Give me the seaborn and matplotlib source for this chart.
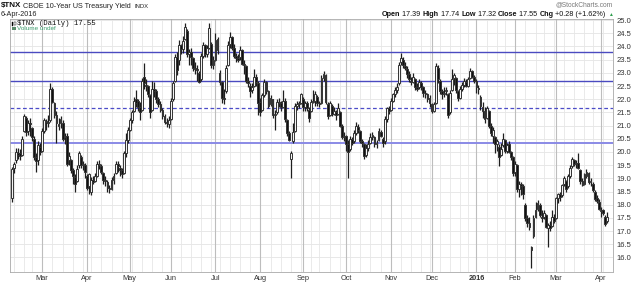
import numpy as np
import pandas as pd
import matplotlib
matplotlib.use("Agg")
import matplotlib.pyplot as plt
from matplotlib.patches import Rectangle
import seaborn as sns

# ---------------- data ----------------
start_date = "2015-02-06"
end_date = "2016-04-06"
market_holidays = ["2015-02-16", "2015-04-03", "2015-05-25", "2015-07-03",
                   "2015-09-07", "2015-11-26", "2015-12-25", "2016-01-01",
                   "2016-01-18", "2016-02-15", "2016-03-25"]

opens = [
    18.25, 19.40, 19.70, 19.95, 19.95, 19.90, 20.80, 21.30, 20.80, 21.10, 20.90, 20.50, 19.80, 19.70, 20.20,
    20.05, 20.80, 21.15, 21.15, 21.20, 22.40, 21.85, 21.40, 21.00, 21.10, 21.10, 20.55, 20.60, 19.70, 19.70, 19.30, 19.05, 18.90, 19.50, 19.80, 19.50, 19.50,
    19.10, 18.70, 18.50, 18.95, 18.90, 19.10, 19.55, 19.45, 19.20, 18.95, 18.85, 18.65, 18.60, 18.95, 19.20, 19.55, 19.40, 19.30, 19.20, 19.95, 20.45,
    20.85, 21.20, 21.55, 22.00, 21.95, 21.70, 21.60, 22.85, 22.55, 22.50, 22.15, 21.60, 22.40, 22.30, 22.00, 21.80, 21.60, 21.35, 21.15, 21.05,
    21.25, 22.00, 22.70, 23.60, 23.50, 24.05, 23.90, 24.30, 24.60, 23.70, 23.80, 23.55, 23.20, 23.15, 23.00, 22.75, 23.65, 24.05, 23.70, 23.95, 24.10, 23.30,
    23.50, 24.30, 23.00, 22.65, 22.05, 22.30, 23.30, 24.10, 24.35, 23.95, 23.65, 23.55, 23.60, 23.85, 23.35, 23.25, 22.70, 22.50, 22.35, 22.50, 22.85, 22.60,
    21.90, 21.60, 22.15, 22.65, 22.30, 21.80, 22.00, 21.40, 21.50, 21.90, 21.85, 21.70, 21.95, 21.20, 20.70, 19.72, 20.40, 20.80, 21.75, 21.80, 21.85,
    22.00, 21.70, 21.85, 21.60, 21.55, 21.90, 21.95, 22.10, 21.85, 21.85, 22.80, 22.90, 21.80, 21.40, 21.75, 21.45, 21.50, 21.45, 21.50, 21.00, 20.55,
    20.60, 20.30, 20.10, 20.50, 20.40, 20.70, 20.95, 20.80, 20.40, 20.30, 19.90, 20.15, 20.35, 20.55, 20.55, 20.30, 20.45, 20.75, 20.50, 20.40, 21.25, 21.65,
    21.60, 21.95, 22.20, 22.35, 22.60, 23.40, 23.50, 23.25, 23.15, 22.95, 22.70, 22.65, 22.75, 22.45, 22.45, 22.60, 22.45, 22.25, 22.20, 22.05,
    21.80, 21.55, 21.85, 23.20, 22.70, 22.30, 22.20, 22.30, 22.20, 21.50, 22.35, 22.80, 22.80, 22.30, 22.05, 22.40, 22.55, 22.65, 22.50, 22.80, 23.05, 22.85,
    22.70, 22.40, 22.10, 21.70, 21.55, 21.30, 21.55, 21.00, 20.60, 20.55, 20.30, 20.20, 19.90, 20.25, 20.45, 20.05, 20.30, 20.00, 19.80,
    19.25, 19.50, 18.60, 18.80, 18.70, 18.00, 17.50, 17.30, 16.40, 16.80, 17.55, 17.85, 18.00, 17.55, 17.55, 17.60, 17.10, 17.25, 17.20, 17.55,
    17.50, 18.25, 18.40, 18.35, 18.80, 18.90, 18.70, 19.10, 19.45, 19.70, 19.55, 19.60, 19.30, 18.90, 18.80, 19.10, 19.20, 18.85, 18.80, 18.50, 18.25, 18.10,
    17.75, 17.80, 17.55, 17.39,
]
highs = [
    19.44, 19.62, 20.15, 20.15, 20.10, 20.60, 21.45, 21.35, 21.20, 21.30, 20.95, 20.60, 19.95, 20.40, 20.35,
    20.90, 21.30, 21.25, 21.40, 22.60, 22.45, 21.90, 21.55, 21.30, 21.35, 21.20, 20.70, 20.70, 20.00, 19.75, 19.40, 19.15, 19.50, 20.05, 19.90, 19.65, 19.60,
    19.15, 19.20, 19.05, 19.10, 19.20, 19.65, 19.70, 19.55, 19.25, 19.10, 18.95, 18.75, 19.05, 19.20, 19.65, 19.65, 19.50, 19.40, 20.05, 20.70, 20.95,
    21.30, 21.60, 22.10, 22.35, 22.00, 21.90, 22.80, 23.36, 22.75, 22.55, 22.20, 22.70, 22.65, 22.40, 22.10, 21.95, 21.65, 21.45, 21.30, 21.35,
    22.05, 22.70, 23.70, 23.80, 24.25, 24.10, 24.40, 24.87, 24.65, 23.90, 23.95, 23.60, 23.40, 23.30, 23.05, 23.75, 24.15, 24.10, 24.05, 24.87, 24.15, 23.65,
    24.50, 24.35, 23.10, 22.70, 22.40, 23.30, 24.20, 24.56, 24.40, 24.10, 23.75, 23.70, 24.00, 23.90, 23.50, 23.30, 22.85, 22.60, 22.60, 23.15, 22.95, 22.70,
    22.05, 22.25, 22.75, 22.70, 22.35, 22.15, 22.00, 21.60, 22.00, 22.05, 21.95, 22.35, 22.05, 21.25, 20.80, 20.05, 21.10, 21.85, 21.95, 21.95, 22.25,
    22.10, 21.95, 21.95, 21.70, 22.00, 22.35, 22.30, 22.15, 21.95, 22.90, 23.05, 22.95, 21.90, 21.95, 21.80, 21.70, 21.60, 21.85, 21.55, 21.05, 20.75,
    20.65, 20.45, 20.60, 20.55, 20.85, 21.15, 21.05, 20.85, 20.50, 20.35, 20.30, 20.45, 20.70, 20.75, 20.60, 20.45, 20.90, 20.85, 20.55, 21.35, 21.70, 21.75,
    22.05, 22.25, 22.45, 22.60, 23.40, 23.74, 23.60, 23.40, 23.25, 23.05, 22.85, 23.00, 22.80, 22.60, 22.75, 22.70, 22.50, 22.35, 22.25, 22.15,
    21.85, 21.90, 23.36, 23.30, 22.75, 22.40, 22.45, 22.45, 22.25, 22.35, 23.15, 23.00, 22.85, 22.35, 22.50, 22.65, 22.80, 22.75, 22.85, 23.17, 23.10, 22.90,
    22.75, 22.55, 22.15, 21.90, 21.70, 21.75, 21.60, 21.10, 20.95, 20.60, 20.50, 20.30, 20.35, 20.70, 20.50, 20.35, 20.40, 20.05, 19.85,
    19.65, 19.55, 18.90, 18.85, 18.80, 18.05, 17.60, 17.55, 16.45, 17.60, 18.10, 18.18, 18.05, 17.80, 17.80, 17.65, 17.30, 17.40, 17.80, 17.65,
    18.30, 18.45, 18.50, 18.80, 19.10, 18.95, 19.15, 19.50, 19.80, 19.75, 19.70, 19.95, 19.35, 19.00, 19.20, 19.35, 19.25, 19.00, 18.85, 18.55, 18.35, 18.20,
    17.90, 17.85, 17.60, 17.74,
]
lows = [
    18.10, 19.20, 19.60, 19.75, 19.70, 19.85, 20.75, 20.60, 20.65, 20.60, 20.40, 19.70, 19.25, 19.50, 19.90,
    20.00, 20.70, 20.85, 20.95, 21.15, 21.85, 21.30, 20.35, 20.85, 20.90, 20.40, 20.30, 19.45, 19.50, 19.20, 18.80, 18.50, 18.85, 19.40, 19.40, 19.30, 19.00,
    18.55, 18.40, 18.37, 18.80, 18.85, 19.05, 19.35, 19.15, 18.80, 18.70, 18.50, 18.43, 18.55, 18.80, 19.15, 19.25, 19.10, 19.00, 19.15, 19.80, 20.35,
    20.80, 21.10, 21.50, 21.70, 21.55, 21.20, 21.55, 22.40, 22.30, 22.10, 21.30, 21.55, 22.10, 21.85, 21.70, 21.50, 21.25, 21.05, 20.95, 20.90,
    21.20, 21.95, 22.65, 22.90, 23.30, 23.70, 23.75, 24.25, 23.60, 23.30, 23.30, 23.05, 22.95, 22.70, 22.60, 22.70, 23.55, 23.60, 23.60, 23.90, 23.20, 23.15,
    23.45, 23.70, 22.55, 21.85, 21.80, 22.25, 23.25, 23.95, 23.85, 23.55, 23.40, 23.40, 23.50, 23.30, 22.95, 22.60, 22.45, 22.10, 22.25, 22.45, 22.50, 21.40,
    21.35, 21.55, 22.10, 22.20, 21.65, 21.75, 21.30, 20.83, 21.45, 21.70, 21.55, 21.65, 21.15, 20.60, 20.40, 19.00, 20.35, 20.75, 21.60, 21.65, 21.80,
    21.55, 21.55, 21.55, 21.15, 21.50, 21.85, 21.75, 21.75, 21.70, 21.80, 22.70, 21.80, 21.25, 21.35, 21.35, 21.40, 21.20, 21.40, 20.95, 20.50, 20.40,
    20.05, 19.00, 20.05, 20.25, 20.35, 20.65, 20.70, 20.35, 20.20, 19.75, 19.80, 20.05, 20.30, 20.45, 20.20, 20.15, 20.40, 20.55, 20.20, 20.30, 21.15, 21.45,
    21.55, 21.90, 22.10, 22.25, 22.55, 23.30, 23.20, 23.10, 22.80, 22.65, 22.55, 22.60, 22.35, 22.30, 22.40, 22.35, 22.10, 22.05, 21.90, 21.70,
    21.46, 21.50, 21.80, 22.60, 22.20, 22.00, 22.10, 22.15, 21.30, 21.45, 22.30, 22.55, 22.25, 21.95, 22.00, 22.30, 22.45, 22.45, 22.45, 22.75, 22.80, 22.60,
    22.25, 22.20, 21.60, 21.30, 21.10, 21.25, 20.90, 20.60, 20.35, 19.95, 20.05, 19.45, 19.85, 20.20, 19.95, 19.95, 19.95, 19.70, 19.10,
    19.10, 18.50, 18.30, 18.35, 18.20, 17.40, 17.15, 17.05, 15.60, 16.75, 17.50, 17.75, 17.55, 17.35, 17.45, 17.10, 16.40, 17.00, 17.15, 17.30,
    17.45, 18.05, 18.15, 18.30, 18.70, 18.50, 18.65, 19.00, 19.40, 19.45, 19.40, 19.35, 18.80, 18.70, 18.75, 19.00, 18.80, 18.70, 18.50, 18.15, 18.05, 17.80,
    17.55, 17.60, 17.20, 17.32,
]
closes = [
    19.35, 19.55, 20.00, 19.90, 19.85, 20.50, 21.35, 20.75, 21.10, 21.05, 20.55, 19.80, 19.65, 20.25, 20.00,
    20.80, 21.20, 21.15, 21.10, 22.40, 21.90, 21.40, 21.10, 21.05, 21.25, 20.50, 20.60, 19.55, 19.85, 19.30, 19.10, 18.80, 19.35, 19.95, 19.50, 19.55, 19.25,
    18.65, 19.15, 18.95, 18.85, 19.10, 19.55, 19.50, 19.25, 18.95, 18.90, 18.65, 18.60, 18.95, 19.10, 19.55, 19.45, 19.30, 19.15, 19.95, 20.45, 20.85,
    21.20, 21.50, 21.95, 21.85, 21.70, 21.50, 22.70, 22.60, 22.50, 22.20, 21.50, 22.40, 22.30, 22.00, 21.80, 21.60, 21.35, 21.15, 21.10, 21.20,
    21.95, 22.60, 23.60, 23.10, 24.05, 23.90, 24.20, 24.75, 23.70, 23.80, 23.60, 23.20, 23.15, 23.10, 22.65, 23.65, 24.05, 23.70, 23.95, 24.70, 23.30, 23.50,
    24.25, 23.85, 22.65, 22.05, 22.00, 23.20, 24.05, 24.35, 23.95, 23.65, 23.55, 23.50, 23.85, 23.35, 23.30, 22.70, 22.60, 22.30, 22.45, 22.85, 22.65, 21.85,
    21.50, 22.15, 22.65, 22.30, 21.75, 22.05, 21.40, 21.45, 21.90, 21.85, 21.70, 21.95, 21.25, 20.70, 20.45, 19.95, 20.75, 21.75, 21.80, 21.85, 22.20,
    21.70, 21.85, 21.65, 21.30, 21.90, 21.95, 22.20, 21.85, 21.80, 22.80, 22.95, 21.90, 21.35, 21.85, 21.45, 21.55, 21.40, 21.65, 21.00, 20.55, 20.60,
    20.30, 20.00, 20.50, 20.35, 20.70, 21.00, 20.85, 20.40, 20.35, 19.85, 20.15, 20.30, 20.55, 20.65, 20.30, 20.35, 20.80, 20.60, 20.35, 21.25, 21.65, 21.55,
    21.95, 22.20, 22.35, 22.45, 23.30, 23.55, 23.30, 23.20, 22.95, 22.75, 22.65, 22.85, 22.45, 22.40, 22.65, 22.45, 22.25, 22.20, 22.00, 21.85,
    21.55, 21.80, 23.25, 22.75, 22.30, 22.20, 22.25, 22.35, 21.40, 22.25, 22.75, 22.90, 22.35, 22.05, 22.40, 22.55, 22.70, 22.50, 22.75, 23.05, 22.85, 22.70,
    22.45, 22.40, 21.75, 21.55, 21.25, 21.65, 21.00, 20.70, 20.85, 20.30, 20.40, 19.80, 20.10, 20.50, 20.05, 20.25, 20.00, 19.80, 19.20,
    19.55, 18.60, 18.80, 18.70, 18.40, 17.50, 17.30, 17.15, 16.30, 17.50, 17.80, 18.05, 17.60, 17.50, 17.70, 17.15, 17.25, 17.10, 17.55, 17.40,
    18.25, 18.40, 18.30, 18.75, 19.00, 18.60, 19.10, 19.40, 19.75, 19.55, 19.60, 19.40, 18.90, 18.75, 19.15, 19.25, 18.85, 18.90, 18.55, 18.20, 18.15, 17.85,
    17.80, 17.70, 17.27, 17.55,
]

level_solid = [23.8, 22.7]
level_dashed = [21.65]
level_light = [20.35]
y_ticks = [16.0, 16.5, 17.0, 17.5, 18.0, 18.5, 19.0, 19.5, 20.0, 20.5,
           21.0, 21.5, 22.0, 22.5, 23.0, 23.5, 24.0, 24.5, 25.0]
month_labels = ["Mar", "Apr", "May", "Jun", "Jul", "Aug", "Sep", "Oct",
                "Nov", "Dec", "2016", "Feb", "Mar", "Apr"]

# ---------------- frame ----------------
dates = pd.bdate_range(start_date, end_date, freq="C", holidays=market_holidays)
df = pd.DataFrame({"date": dates, "open": opens, "high": highs,
                   "low": lows, "close": closes})
df["i"] = np.arange(len(df))
df["up"] = df["close"] >= df["open"]

sns.set_theme(style="white")
plt.rcParams["font.family"] = ["Liberation Sans", "DejaVu Sans"]

W, H = 640, 284
fig = plt.figure(figsize=(W / 100, H / 100), dpi=100)
fig.patch.set_facecolor("white")
ax = fig.add_axes([10 / W, 1 - 272 / H, 603 / W, 253 / H])
ax.set_facecolor("white")

# month starts and week starts
per = df["date"].dt.to_period("M")
month_start = df.index[per != per.shift(1)][1:]
wk = df["date"].dt.isocalendar().week
week_start = df.index[wk != wk.shift(1)]

for v in y_ticks:
    ax.axhline(v, color="#e4e4e4", lw=0.6, zorder=0)
for w in week_start:
    if w not in month_start:
        ax.axvline(w, color="#e6e6e6", lw=0.6, zorder=0)
for m in month_start:
    ax.axvline(m, color="#bdbdbd", lw=0.8, zorder=0)

for v in level_solid:
    ax.axhline(v, color="#4a4ac0", lw=1.0, zorder=1)
for v in level_dashed:
    ax.axhline(v, color="#4c4cc8", lw=0.9, ls=(0, (3, 2)), zorder=1)
for v in level_light:
    ax.axhline(v, color="#8a8ae6", lw=1.4, zorder=1)

# candles
ax.vlines(df["i"], df["low"], df["high"], color="#1e1e1e", lw=0.9, zorder=2)
body_lo = np.minimum(df["open"], df["close"])
body_h = np.maximum((df["close"] - df["open"]).abs(), 0.04)
ax.bar(df["i"], body_h, bottom=body_lo, width=0.9,
       color=np.where(df["up"], "#f4f4f4", "#111111"),
       edgecolor="#333333", linewidth=0.7, zorder=3)

ax.set_xlim(-0.8, 295)
ax.set_ylim(15.45, 25.04)

ax.yaxis.tick_right()
ax.set_yticks(y_ticks)
ax.set_yticklabels([f"{v:.1f}" for v in y_ticks], fontsize=5.5, color="#333333")
ax.tick_params(axis="y", length=0, pad=2.5)
ax.set_xticks(list(month_start))
ax.set_xticklabels(month_labels, fontsize=5.3, color="#333333")
for lab in ax.get_xticklabels():
    if lab.get_text() == "2016":
        lab.set_fontweight("bold")
ax.tick_params(axis="x", length=0, pad=2.5)
for s in ax.spines.values():
    s.set_color("#a8a8a8")
    s.set_linewidth(0.6)
ax.spines["bottom"].set_linestyle((0, (1, 1)))
ax.grid(False)

# ---------------- header text ----------------
renderer = fig.canvas.get_renderer()


def put(x, y, s, **kw):
    t = fig.text(x / W, 1 - y / H, s, va="center", ha="left", **kw)
    bb = t.get_window_extent(renderer=renderer)
    return bb.x1


x = put(1, 6, "$TNX", fontsize=5.8, fontweight="bold", color="#111111")
x = put(x + 2, 6, "CBOE 10-Year US Treasury Yield", fontsize=5.2, color="#222222")
put(x + 3, 6.5, "INDX", fontsize=4.2, color="#222222")
put(1, 15, "6-Apr-2016", fontsize=5.2, color="#222222")

fig.text(613 / W, 1 - 4.5 / H, "@StockCharts.com", fontsize=4.8, color="#777777",
         ha="right", va="center")

parts = [("Open", "bold"), (" 17.39 ", "normal"), ("High", "bold"),
         (" 17.74 ", "normal"), ("Low", "bold"), (" 17.32 ", "normal"),
         ("Close", "bold"), (" 17.55 ", "normal"), ("Chg", "bold"),
         (" +0.28 (+1.62%)", "normal")]
x = 382
for s, wgt in parts:
    x = put(x, 15, s, fontsize=5.2, fontweight=wgt, color="#111111")
put(x + 2, 15, "\u25b2", fontsize=3.5, color="#2e9e4e")

# legend inside plot
fig.add_artist(Rectangle((11.5 / W, 1 - 26 / H), 1.6 / W, 4 / H,
                         facecolor="black", edgecolor="black", lw=0.3))
fig.add_artist(Rectangle((14 / W, 1 - 25 / H), 1.6 / W, 3 / H,
                         facecolor="white", edgecolor="black", lw=0.3))
put(17, 23.5, "$TNX (Daily) 17.55", fontsize=5.2, color="#111111",
    family=["Liberation Mono", "DejaVu Sans Mono"])
fig.add_artist(Rectangle((11.5 / W, 1 - 30 / H), 4 / W, 2.5 / H,
                         facecolor="#5a8a6a", edgecolor="none"))
put(17, 29, "Volume undef", fontsize=4.6, color="#3f9f6f")

fig.savefig("out.png", dpi=100, facecolor="white")
